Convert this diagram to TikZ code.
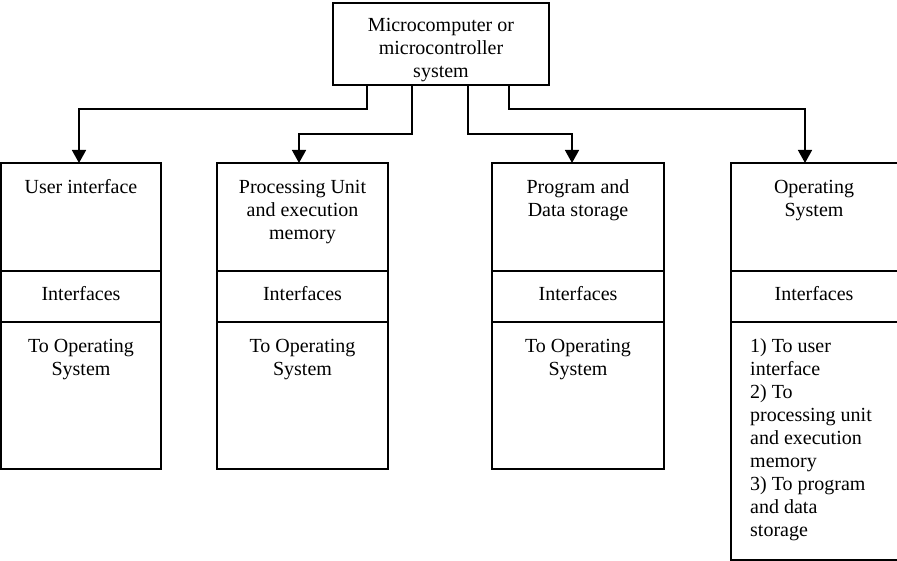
\documentclass[tikz,border=0pt]{standalone}
\usepackage{fontspec}
\setmainfont{Liberation Serif}
\newfontfamily\boxfont{Liberation Serif}
\usetikzlibrary{arrows.meta}
\begin{document}
\begin{tikzpicture}[x=1pt,y=-1pt,
  box/.style={draw, line width=1.5pt, rectangle, inner sep=0pt, outer sep=0pt},
  lbl/.style={font=\boxfont\fontsize{20}{23}\selectfont, align=center, anchor=base, inner sep=0pt},
  lst/.style={font=\boxfont\fontsize{20}{23}\selectfont, align=left, anchor=base west, inner sep=0pt},
  sep/.style={line width=1.5pt},
  arr/.style={line width=1.5pt, -{Triangle[length=13pt,width=14pt]}}]
\useasboundingbox (0,0) rectangle (897,561);

% top-level system box (text placed by the baseline of its last line)
\node[box, minimum width=216pt, minimum height=82pt] (sys) at (441,44) {};
\node[lbl] (tsys) at (441,77.5) {Microcomputer or\\microcontroller\\system};

% subsystem boxes
\node[box, minimum width=160pt, minimum height=306pt] (ui) at (81,316) {};
\node[box, minimum width=171pt, minimum height=306pt] (pu) at (302.5,316) {};
\node[box, minimum width=172pt, minimum height=306pt] (pd) at (578,316) {};
\node[box, minimum width=167pt, minimum height=397pt] (os) at (814.5,361.5) {};

% section dividers
\foreach \b in {ui,pu,pd,os}{
  \draw[sep] (\b.west |- {(0,271)}) -- (\b.east |- {(0,271)});
  \draw[sep] (\b.west |- {(0,322)}) -- (\b.east |- {(0,322)});
}

% headings
\node[lbl] (hui) at (81,194) {User interface};
\node[lbl] (hpu) at (302.5,240) {Processing Unit\\and execution\\memory};
\node[lbl] (hpd) at (578,217) {Program and\\Data storage};
\node[lbl] (hos) at (814,217) {Operating\\System};

% interface rows
\node[lbl] (iui) at (81,301) {Interfaces};
\node[lbl] (ipu) at (302.5,301) {Interfaces};
\node[lbl] (ipd) at (578,301) {Interfaces};
\node[lbl] (ios) at (814,301) {Interfaces};

% interface details
\node[lbl] (dui) at (81,375) {To Operating\\System};
\node[lbl] (dpu) at (302.5,375) {To Operating\\System};
\node[lbl] (dpd) at (578,375) {To Operating\\System};
\node[lst] (dos) at (750,536) {1) To user\\interface\\2) To\\processing unit\\and execution\\memory\\3) To program\\and data\\storage};

% connectors
\coordinate (e1) at (367,85);
\coordinate (e2) at (412,85);
\coordinate (e3) at (468,85);
\coordinate (e4) at (509,85);
\draw[arr] (e1) -- ++(0,24) -| ([xshift=-2pt]ui.north);
\draw[arr] (e2) -- ++(0,49) -| ([xshift=-3.5pt]pu.north);
\draw[arr] (e3) -- ++(0,49) -| ([xshift=-6pt]pd.north);
\draw[arr] (e4) -- ++(0,24) -| ([xshift=-9.5pt]os.north);
\end{tikzpicture}
\end{document}
